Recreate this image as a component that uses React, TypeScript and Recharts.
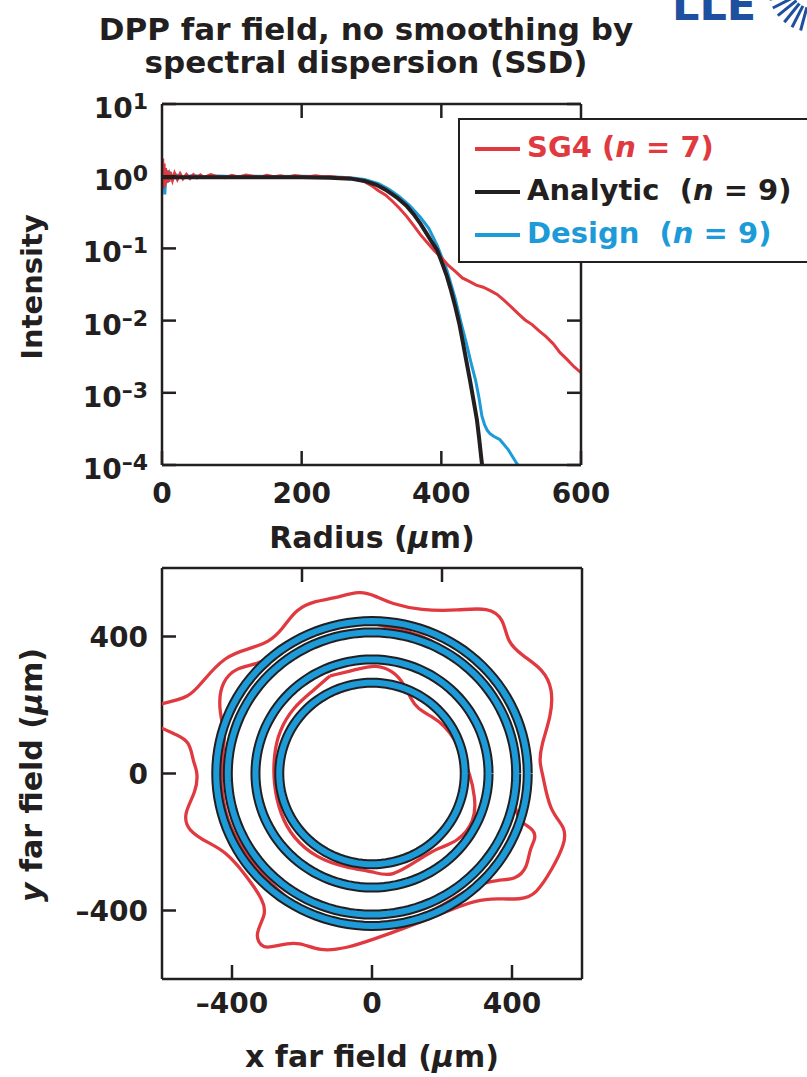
import React from "react";
import { LineChart, Line, XAxis, YAxis, Legend, ScatterChart, Scatter } from "recharts";

const RED = "#e03a40";
const BLACK = "#231f20";
const BLUE = "#1d9bd8";
const LOGO = "#1f4f9f";
const FONT = "'DejaVu Sans', 'Liberation Sans', sans-serif";
const TICK_LEN = 14;

// top panel: radial lineouts, radius in um, normalized intensity
const radiusTicks = [0, 200, 400, 600];
const radiusTopTicks = [200, 400];
const intensityTicks = [1e-4, 1e-3, 1e-2, 1e-1, 1, 10];

const sg4Radius = [
  0, 1, 2, 3, 4, 5, 6, 8, 10, 12, 15, 18, 22, 26, 30, 35, 40, 45, 50, 55,
  60, 70, 80, 90, 100, 110, 120, 130, 140, 150, 160, 170, 180, 190, 200, 210, 220, 230, 240, 250,
  260, 270, 280, 290, 300, 310, 320, 330, 340, 350, 360, 370, 380, 390, 400, 410, 420, 430, 440, 450,
  460, 470, 480, 490, 500, 510, 520, 530, 540, 550, 560, 570, 580, 590, 600,
];
const sg4Intensity = [
  1.0, 1.75, 0.68, 1.5, 0.72, 1.3, 0.8, 1.2, 0.84, 1.14, 0.88, 1.1, 0.9, 1.08, 0.92, 1.06, 0.93, 1.05, 0.95, 1.04,
  0.96, 1.05, 0.98, 0.95, 1.03, 0.97, 1.04, 1.0, 0.96, 1.03, 0.98, 1.01, 0.97, 1.02, 0.99, 0.98, 1.01, 0.98, 0.99, 0.97,
  0.96, 0.94, 0.9, 0.84, 0.74, 0.63, 0.55, 0.45, 0.36, 0.28, 0.21, 0.155, 0.12, 0.093, 0.075, 0.058, 0.048, 0.039, 0.035, 0.031,
  0.029, 0.026, 0.023, 0.019, 0.0155, 0.0125, 0.0102, 0.0088, 0.0072, 0.006, 0.0048, 0.0036, 0.0029, 0.0023, 0.0019,
];

const analyticRadius = [
  0, 100, 200, 240, 270, 290, 307, 320, 336, 350, 360, 370, 379, 387, 394, 401, 408, 414, 420, 426,
  431, 436, 441, 446, 451, 454, 457, 461,
];
const analyticIntensity = [
  0.97, 0.97, 0.965, 0.955, 0.925, 0.86, 0.76, 0.65, 0.51, 0.39, 0.3, 0.22, 0.16, 0.12, 0.095, 0.063, 0.041, 0.026, 0.0155, 0.0088,
  0.0049, 0.0027, 0.0015, 0.0008, 0.00042, 0.00024, 0.00013, 0.00006,
];

const designRadius = [
  0, 2, 4, 6, 8, 11, 15, 20, 30, 45, 60, 80, 100, 130, 160, 200, 240, 270, 290, 310,
  325, 340, 355, 370, 382, 394, 408, 420, 428, 436, 443, 449, 454, 458, 462, 466, 470, 475, 484, 496,
  508, 514,
];
const designIntensity = [
  0.75, 1.45, 0.56, 1.2, 0.82, 1.1, 0.92, 1.04, 0.97, 1.02, 0.98, 1.01, 0.99, 1.0, 0.99, 1.0, 0.98, 0.95, 0.9, 0.79,
  0.66, 0.52, 0.39, 0.27, 0.19, 0.11, 0.05, 0.02, 0.0095, 0.0048, 0.0025, 0.0015, 0.00085, 0.00048, 0.00036, 0.0003, 0.00027, 0.00025, 0.000224, 0.000162,
  0.000105, 0.00009,
];

const legendNames = ["SG4", "Analytic ", "Design "];
const legendOrders = [7, 9, 9];
const legendColors = [RED, BLACK, BLUE];

// bottom panel: far-field contours, um
const fieldTicks = [-400, 0, 400];
const fieldTopTicks = [-200, 200];
const ringRadii = [445, 412, 333, 265];

const outerX = [
  -640, -603, -520, -487, -419, -352, -294, -255, -217, -159, -111, -33, 10, 54, 140, 247, 333, 377, 386, 430,
  488, 517, 512, 483, 478, 488, 507, 555, 550, 517, 468, 430, 333, 285, 189, 92, 5, -72, -149, -207,
  -265, -313, -337, -303, -308, -361, -419, -467, -525, -540, -501, -498, -511, -520, -564, -603, -640,
];
const outerY = [
  195, 203, 222, 266, 344, 364, 383, 422, 481, 505, 510, 535, 518, 496, 476, 476, 486, 452, 383, 344,
  305, 247, 168, 81, 32, -2, -110, -159, -207, -276, -354, -369, -364, -374, -413, -452, -484, -510, -520, -491,
  -500, -515, -471, -413, -374, -295, -227, -203, -168, -120, -51, 7, 32, 95, 115, 134, 150,
];

const middleX = [
  -4, 54, 140, 200, 247, 300, 350, 390, 405, 402, 415, 459, 470, 450, 444, 410, 362, 290, 200, 100,
  0, -91, -197, -280, -332, -410, -432, -428, -419, -429, -438, -429, -390, -323, -260, -150, -60, -4,
];
const middleY = [
  440, 425, 405, 370, 330, 290, 230, 140, 40, -60, -140, -159, -188, -220, -276, -310, -310, -325, -390, -432,
  -445, -445, -405, -330, -276, -159, -50, 50, 110, 149, 207, 266, 310, 318, 360, 415, 435, 440,
];

const innerX = [
  -120, -40, 10, 60, 92, 111, 131, 169, 208, 237, 256, 280, 295, 295, 245, 189, 140, 54, 5, -72,
  -159, -226, -262, -282, -280, -265, -226, -168, -120,
];
const innerY = [
  285, 305, 318, 300, 262, 217, 188, 168, 139, 100, 51, 0, -70, -139, -200, -217, -247, -305, -286, -276,
  -247, -188, -120, -30, 60, 125, 193, 242, 285,
];

const zip = (xs: number[], ys: number[]) => xs.map((x, i) => ({ x, y: ys[i] }));

const sg4Data = zip(sg4Radius, sg4Intensity);
const analyticData = zip(analyticRadius, analyticIntensity);
const designData = zip(designRadius, designIntensity);

const ringData = (r: number) =>
  Array.from({ length: 121 }, (_, i) => {
    const a = (i / 120) * Math.PI * 2;
    return { x: r * Math.cos(a), y: r * Math.sin(a) };
  });

const frame = { stroke: BLACK, strokeWidth: 2.5 };

const fmt = (v: number) => (v < 0 ? `\u2013${-v}` : `${v}`);

// tickSize/tickMargin are 0, so x/y sit on the frame; draw the inward tick here
const inward: Record<string, [number, number]> = {
  left: [1, 0],
  right: [-1, 0],
  top: [0, 1],
  bottom: [0, -1],
};

const EdgeTick = (props: any) => {
  const { x, y, payload, side, ox = 0, oy = 0, anchor = "middle", pow = false, label = true } = props;
  const [dx, dy] = inward[side];
  const e = Math.round(Math.log10(payload.value));
  return (
    <g>
      <line x1={x} y1={y} x2={x + dx * TICK_LEN} y2={y + dy * TICK_LEN} stroke={BLACK} strokeWidth={2.5} />
      {label && (
        <text x={x + ox} y={y + oy} textAnchor={anchor} fontFamily={FONT} fontWeight="bold" fontSize={28} fill={BLACK}>
          {pow ? "10" : fmt(payload.value)}
          {pow && (
            <tspan dy={-9} fontSize={22}>
              {fmt(e)}
            </tspan>
          )}
        </text>
      )}
    </g>
  );
};

const NoDot = () => <g />;

const LegendBox = () => (
  <div
    style={{
      position: "relative",
      width: 360,
      height: 145,
      border: `2px solid ${BLACK}`,
      boxSizing: "border-box",
      background: "#fff",
      fontFamily: FONT,
      fontWeight: "bold",
      fontSize: 29,
    }}
  >
    {legendNames.map((name, i) => (
      <div
        key={name}
        style={{ position: "absolute", left: 15, top: 7 + i * 43, height: 40, lineHeight: "40px", color: legendColors[i], whiteSpace: "pre" }}
      >
        <span style={{ display: "inline-block", width: 45, height: 4, background: legendColors[i], verticalAlign: "middle", marginRight: 7 }} />
        {name} (<i>n</i> = {legendOrders[i]})
      </div>
    ))}
  </div>
);

const curveLine = (color: string, width: number) => ({ stroke: color, strokeWidth: width, fill: "none" });

const axisBase = { interval: 0 as const, allowDataOverflow: true, axisLine: frame, tickLine: false, tickSize: 0, tickMargin: 0 };

export default function App() {
  return (
    <div style={{ position: "absolute", left: 0, top: 0, width: 807, height: 1077, overflow: "hidden", background: "#fff" }}>
      <svg width={807} height={1077} style={{ position: "absolute", left: 0, top: 0 }} fontFamily={FONT} fontWeight="bold" fill={BLACK}>
        <text x={366} y={40} textAnchor="middle" fontSize={31}>DPP far field, no smoothing by</text>
        <text x={366} y={73} textAnchor="middle" fontSize={31}>spectral dispersion (SSD)</text>
        <text transform="translate(42,287) rotate(-90)" textAnchor="middle" fontSize={29}>Intensity</text>
        <text x={372} y={548} textAnchor="middle" fontSize={30}>
          Radius (<tspan fontStyle="italic">µ</tspan>m)
        </text>
        <text transform="translate(42,775) rotate(-90)" textAnchor="middle" fontSize={30}>
          <tspan fontStyle="italic">y</tspan> far field (<tspan fontStyle="italic">µ</tspan>m)
        </text>
        <text x={372} y={1067} textAnchor="middle" fontSize={30}>
          x far field (<tspan fontStyle="italic">µ</tspan>m)
        </text>
        <text x={672} y={20} fontSize={43} fill={LOGO}>LLE</text>
        <g stroke={LOGO} strokeWidth={3}>
          {[105, 117, 129, 141, 153, 165].map((a) => {
            const t = (a * Math.PI) / 180;
            return <line key={a} x1={812 + 20 * Math.cos(t)} y1={-12 + 20 * Math.sin(t)} x2={812 + 44 * Math.cos(t)} y2={-12 + 44 * Math.sin(t)} />;
          })}
        </g>
      </svg>

      <div style={{ position: "absolute", left: 0, top: 0 }}>
        <LineChart width={807} height={560} margin={{ top: 103, right: 225, bottom: 94, left: 161 }}>
          <XAxis
            {...axisBase}
            dataKey="x"
            type="number"
            domain={[0, 600]}
            ticks={radiusTicks}
            height={1}
            tick={<EdgeTick side="bottom" oy={38} />}
          />
          <XAxis
            {...axisBase}
            xAxisId="top"
            orientation="top"
            dataKey="x"
            type="number"
            domain={[0, 600]}
            ticks={radiusTopTicks}
            height={1}
            tick={<EdgeTick side="top" label={false} />}
          />
          <YAxis
            {...axisBase}
            type="number"
            scale="log"
            domain={[1e-4, 10]}
            ticks={intensityTicks}
            width={1}
            tick={<EdgeTick side="left" pow ox={-14} oy={14} anchor="end" />}
          />
          <YAxis
            {...axisBase}
            yAxisId="right"
            orientation="right"
            type="number"
            scale="log"
            domain={[1e-4, 10]}
            ticks={intensityTicks}
            width={1}
            tick={<EdgeTick side="right" label={false} />}
          />
          <Line data={designData} dataKey="y" type="linear" stroke={BLUE} strokeWidth={3} dot={false} isAnimationActive={false} />
          <Line data={sg4Data} dataKey="y" type="linear" stroke={RED} strokeWidth={3} dot={false} isAnimationActive={false} />
          <Line data={analyticData} dataKey="y" type="linear" stroke={BLACK} strokeWidth={4} dot={false} isAnimationActive={false} />
          <Legend
            layout="vertical"
            align="center"
            verticalAlign="middle"
            content={() => <LegendBox />}
            wrapperStyle={{ left: 458, top: 118, width: 360 }}
          />
        </LineChart>
      </div>

      <div style={{ position: "absolute", left: 0, top: 540 }}>
        <ScatterChart width={807} height={537} margin={{ top: 27, right: 224, bottom: 97, left: 161 }}>
          <XAxis
            {...axisBase}
            dataKey="x"
            type="number"
            domain={[-600, 600]}
            ticks={fieldTicks}
            height={1}
            tick={<EdgeTick side="bottom" oy={34} />}
          />
          <XAxis
            {...axisBase}
            xAxisId="top"
            orientation="top"
            dataKey="x"
            type="number"
            domain={[-600, 600]}
            ticks={fieldTopTicks}
            height={1}
            tick={<EdgeTick side="top" label={false} />}
          />
          <YAxis
            {...axisBase}
            dataKey="y"
            type="number"
            domain={[-600, 600]}
            ticks={fieldTicks}
            width={1}
            tick={<EdgeTick side="left" ox={-14} oy={10} anchor="end" />}
          />
          <YAxis
            {...axisBase}
            yAxisId="right"
            orientation="right"
            dataKey="y"
            type="number"
            domain={[-600, 600]}
            ticks={[-600, 600]}
            width={1}
            tick={false}
          />
          <Scatter data={zip(outerX, outerY)} fill={RED} line={curveLine(RED, 3.3)} lineType="joint" lineJointType="basis" shape={<NoDot />} isAnimationActive={false} />
          <Scatter data={zip(middleX, middleY)} fill={RED} line={curveLine(RED, 3.3)} lineType="joint" lineJointType="basis" shape={<NoDot />} isAnimationActive={false} />
          <Scatter data={zip(innerX, innerY)} fill={RED} line={curveLine(RED, 3.3)} lineType="joint" lineJointType="basis" shape={<NoDot />} isAnimationActive={false} />
          {ringRadii.map((r) => (
            <Scatter key={`k${r}`} data={ringData(r)} fill={BLACK} line={curveLine(BLACK, 10)} lineType="joint" shape={<NoDot />} isAnimationActive={false} />
          ))}
          {ringRadii.map((r) => (
            <Scatter key={`b${r}`} data={ringData(r)} fill={BLUE} line={curveLine(BLUE, 6)} lineType="joint" shape={<NoDot />} isAnimationActive={false} />
          ))}
        </ScatterChart>
      </div>
    </div>
  );
}
